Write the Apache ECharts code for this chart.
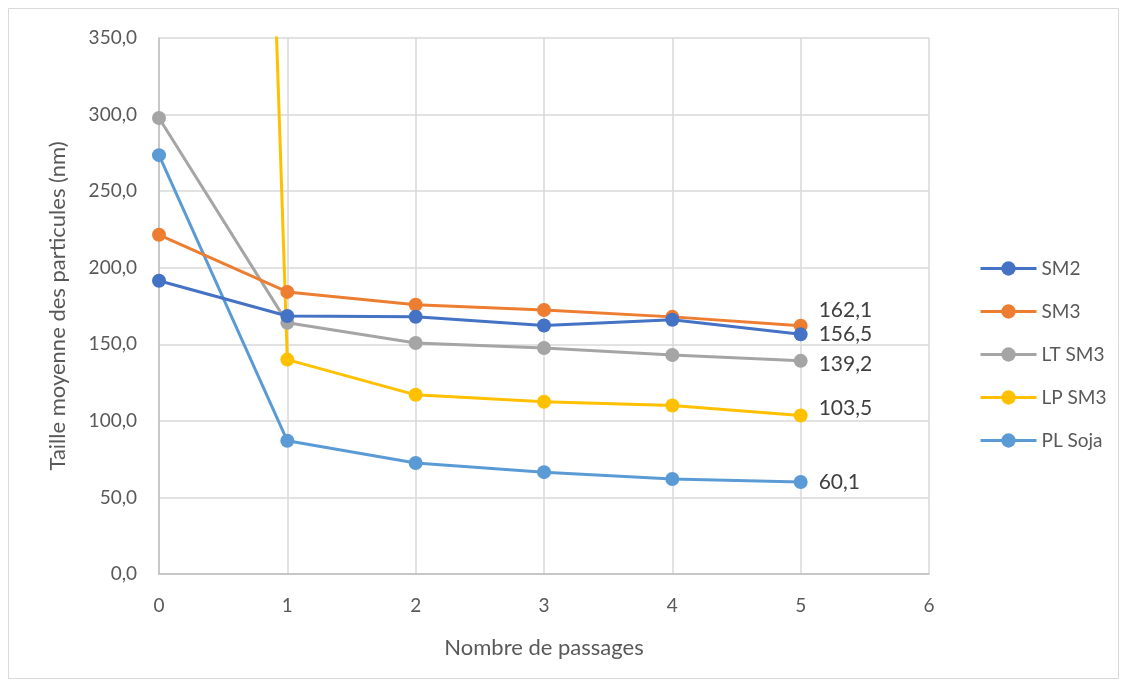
<!DOCTYPE html>
<html><head><meta charset="utf-8">
<script src="https://cdn.jsdelivr.net/npm/echarts@6/dist/echarts.min.js"></script>
<style>html,body{margin:0;padding:0;background:#fff}#c{width:1125px;height:686px}</style>
</head><body><div id="c"></div>
<script>
const passages = [0, 1, 2, 3, 4, 5];
const seriesNames = ['SM2', 'SM3', 'LT SM3', 'LP SM3', 'PL Soja'];
const sm2 = [191.5, 168.5, 168.0, 162.3, 166.0, 156.5];
const sm3 = [221.5, 184.2, 175.8, 172.4, 167.9, 162.1];
const ltSm3 = [297.8, 164.0, 150.8, 147.6, 143.0, 139.2];
const lpSm3 = [2650.0, 140.0, 117.0, 112.5, 110.0, 103.5];
const plSoja = [273.5, 87.0, 72.5, 66.5, 62.0, 60.1];
const colors = ['#4472C4', '#ED7D31', '#A5A5A5', '#FFC000', '#5B9BD5'];
const labelOffsets = [[0, 0], [0, -16], [0, 3], [0, -7], [0, 0]];
const allData = [sm2, sm3, ltSm3, lpSm3, plSoja];
const fmt = v => v.toFixed(1).replace('.', ',');
const font = 'Lato';

const chart = echarts.init(document.getElementById('c'), null, {renderer: 'canvas'});
chart.setOption({
  animation: false,
  backgroundColor: '#fff',
  textStyle: {fontFamily: font},
  graphic: [{type: 'rect', shape: {x: 8.5, y: 8.5, width: 1110, height: 670}, style: {fill: 'none', stroke: '#d9d9d9', lineWidth: 1}, silent: true}],
  grid: {left: 159, right: 196, top: 38, bottom: 112, containLabel: false},
  legend: {
    orient: 'vertical', left: 974, top: 254, itemGap: 24,
    itemWidth: 56, itemHeight: 18,
    lineStyle: {width: 3},
    textStyle: {fontFamily: font, fontSize: 19, color: '#595959'},
    data: seriesNames
  },
  xAxis: {
    type: 'value', min: 0, max: 6, interval: 1,
    name: 'Nombre de passages', nameLocation: 'middle', nameGap: 63,
    nameTextStyle: {fontFamily: font, fontSize: 22, color: '#595959'},
    axisLine: {show: true, lineStyle: {color: '#bfbfbf', width: 1.5}},
    axisTick: {show: false},
    axisLabel: {fontFamily: font, fontSize: 19, color: '#595959', margin: 22},
    splitLine: {show: true, lineStyle: {color: '#d9d9d9', width: 1.5}}
  },
  yAxis: {
    type: 'value', min: 0, max: 350, interval: 50,
    name: 'Taille moyenne des particules (nm)', nameLocation: 'middle', nameGap: 90,
    nameTextStyle: {fontFamily: font, fontSize: 22, color: '#595959'},
    axisLine: {show: true, lineStyle: {color: '#bfbfbf', width: 1.5}},
    axisTick: {show: false},
    axisLabel: {fontFamily: font, fontSize: 19, color: '#595959', margin: 22, formatter: fmt},
    splitLine: {show: true, lineStyle: {color: '#d9d9d9', width: 1.5}}
  },
  series: seriesNames.map((n, i) => ({
    name: n, type: 'line', clip: true,
    data: passages.map((x, j) => [x, allData[i][j]]),
    symbol: 'circle', symbolSize: 14,
    itemStyle: {color: colors[i]},
    lineStyle: {color: colors[i], width: 3},
    z: 10 - i,
    label: {
      show: true, position: 'right', distance: 11,
      offset: labelOffsets[i],
      fontFamily: font, fontSize: 21, color: '#404040',
      formatter: p => p.dataIndex === passages.length - 1 ? fmt(p.value[1]) : ''
    }
  }))
});
</script></body></html>
